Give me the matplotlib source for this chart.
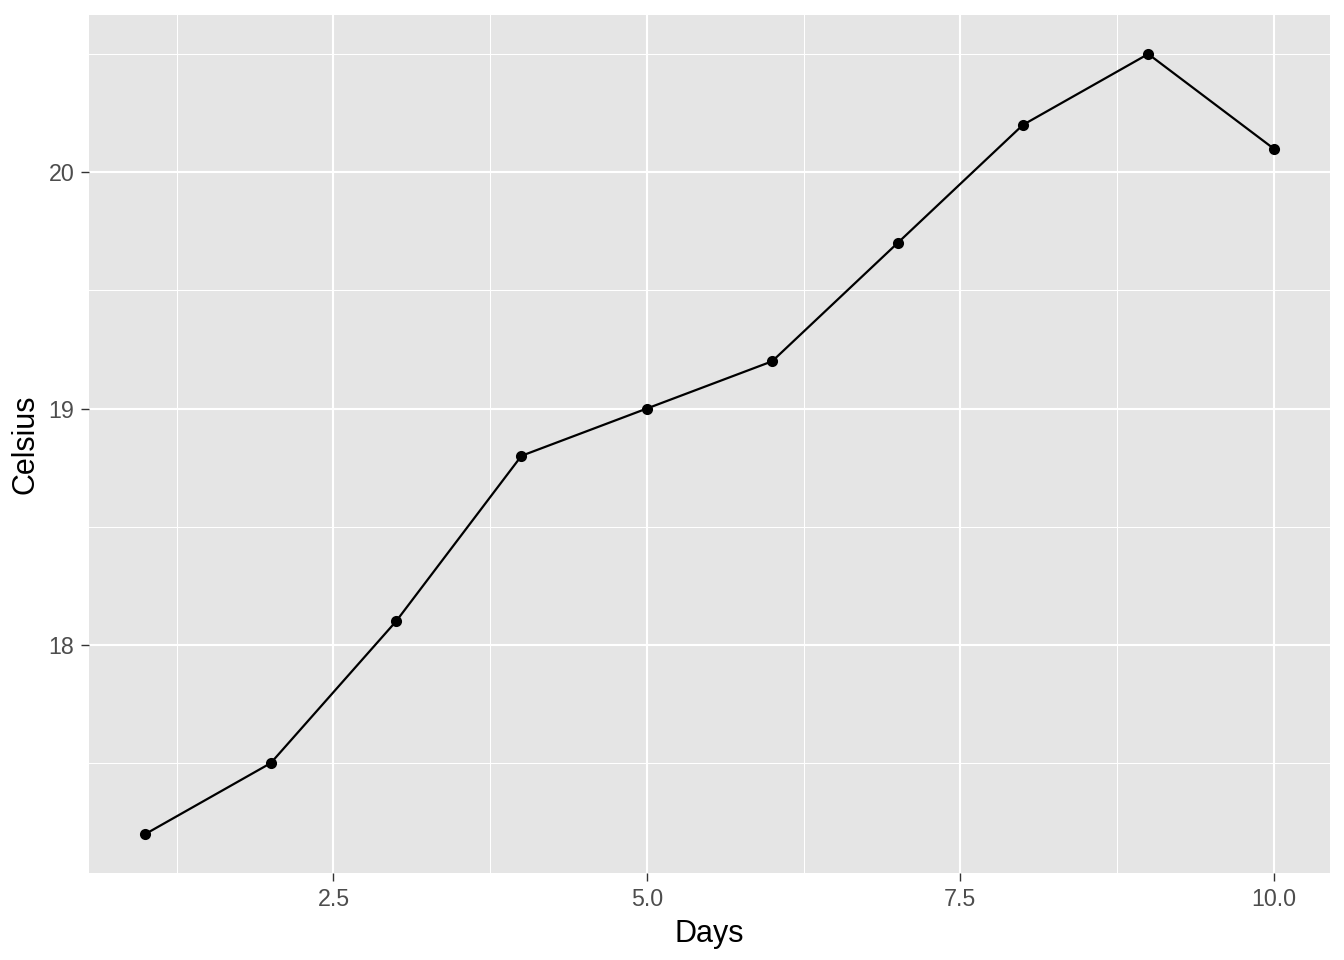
import matplotlib
matplotlib.use("Agg")
import matplotlib.pyplot as plt
from matplotlib.ticker import FixedLocator

# data
days = [1, 2, 3, 4, 5, 6, 7, 8, 9, 10]
celsius = [17.2, 17.5, 18.1, 18.8, 19.0, 19.2, 19.7, 20.2, 20.5, 20.1]

x_major = [2.5, 5.0, 7.5, 10.0]
x_major_labels = ["2.5", "5.0", "7.5", "10.0"]
x_minor = [1.25, 3.75, 6.25, 8.75]
y_major = [18, 19, 20]
y_major_labels = ["18", "19", "20"]
y_minor = [17.5, 18.5, 19.5, 20.5]

plt.rcParams["font.family"] = ["Liberation Sans", "DejaVu Sans"]

fig = plt.figure(figsize=(6.72, 4.8), dpi=200)
ax = fig.add_axes([89 / 1344, 87 / 960, (1330 - 89) / 1344, (873 - 15) / 960])
ax.set_facecolor("#E5E5E5")
for s in ax.spines.values():
    s.set_visible(False)

ax.set_xlim(0.55, 10.45)
ax.set_ylim(17.035, 20.665)

ax.xaxis.set_major_locator(FixedLocator(x_major))
ax.set_xticklabels(x_major_labels)
ax.xaxis.set_minor_locator(FixedLocator(x_minor))
ax.yaxis.set_major_locator(FixedLocator(y_major))
ax.set_yticklabels(y_major_labels)
ax.yaxis.set_minor_locator(FixedLocator(y_minor))

ax.grid(which="major", color="white", linewidth=0.75)
ax.grid(which="minor", color="white", linewidth=0.38)
ax.set_axisbelow(True)

ax.tick_params(which="major", length=2.75, width=0.5, color="#333333",
               labelsize=8.4, labelcolor="#4D4D4D", pad=2.5)
ax.tick_params(which="minor", length=0)

ax.plot(days, celsius, color="black", linewidth=0.8, zorder=3)
ax.scatter(days, celsius, color="black", s=9, zorder=4)

ax.set_xlabel("Days", fontsize=11, color="black", labelpad=3)
ax.set_ylabel("Celsius", fontsize=11, color="black", labelpad=3)

fig.savefig("out.png", dpi=200)
